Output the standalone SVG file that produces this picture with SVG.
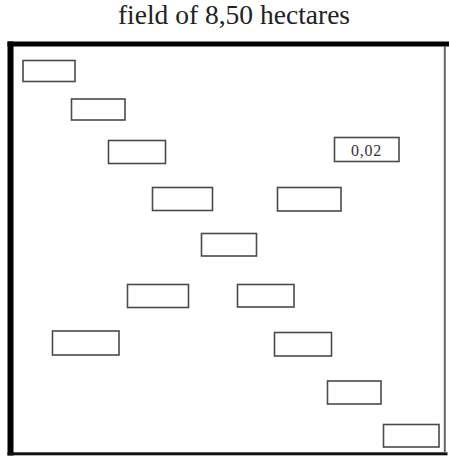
<svg xmlns="http://www.w3.org/2000/svg" width="449" height="457" viewBox="0 0 449 457">
<style>
.plot{fill:#ffffff;stroke:#4a4a4a;stroke-width:1.6}
.title{font-family:"Liberation Serif","Times New Roman",serif;font-size:27.5px;fill:#222222}
.lbl{font-family:"Liberation Serif","Times New Roman",serif;font-size:16px;fill:#333333}
</style>
<rect width="449" height="457" fill="#ffffff"/>
<text class="title" x="234" y="24" text-anchor="middle">field of 8,50 hectares</text>
<g id="field">
<rect x="7.5" y="41.5" width="441.5" height="5" fill="#000000"/>
<rect x="7.5" y="41.5" width="6" height="414" fill="#000000"/>
<rect x="7.5" y="452.3" width="440" height="3" fill="#111111"/>
<rect x="443.8" y="46" width="2" height="407" fill="#666666"/>
</g>
<g id="connectors"></g>
<g id="p1"><rect class="plot" x="23" y="60.5" width="52" height="21"/></g>
<g id="p2"><rect class="plot" x="71.5" y="99" width="53.5" height="21"/></g>
<g id="p3"><rect class="plot" x="108.5" y="140.5" width="57" height="23"/></g>
<g id="p4"><rect class="plot" x="334.5" y="137.5" width="64.5" height="24"/><text class="lbl" x="366.5" y="156" text-anchor="middle" letter-spacing="0.8">0,02</text></g>
<g id="p5"><rect class="plot" x="152.5" y="187.5" width="60" height="23"/></g>
<g id="p6"><rect class="plot" x="277.5" y="187.5" width="63.5" height="23.5"/></g>
<g id="p7"><rect class="plot" x="201.5" y="233.5" width="55" height="22.5"/></g>
<g id="p8"><rect class="plot" x="127.5" y="284.5" width="61" height="23"/></g>
<g id="p9"><rect class="plot" x="237.5" y="284.5" width="56.5" height="22.5"/></g>
<g id="p10"><rect class="plot" x="52.5" y="331" width="66.5" height="24"/></g>
<g id="p11"><rect class="plot" x="274.5" y="332.5" width="57" height="23.5"/></g>
<g id="p12"><rect class="plot" x="327.5" y="381" width="53.5" height="23"/></g>
<g id="p13"><rect class="plot" x="383.5" y="424.5" width="55.5" height="22.5"/></g>
</svg>
